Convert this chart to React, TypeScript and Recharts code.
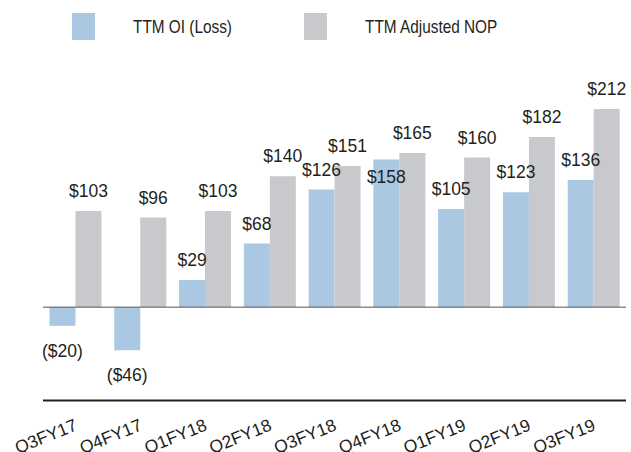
import { BarChart, Bar, XAxis, YAxis, ReferenceLine, LabelList, Legend } from 'recharts';

const quarters = ['Q3FY17', 'Q4FY17', 'Q1FY18', 'Q2FY18', 'Q3FY18', 'Q4FY18', 'Q1FY19', 'Q2FY19', 'Q3FY19'];
const ttmOi = [-20, -46, 29, 68, 126, 158, 105, 123, 136];
const ttmAdjNop = [103, 96, 103, 140, 151, 165, 160, 182, 212];

const BLUE = '#abc8e3';
const GREY = '#c7c9cd';
const FONT = '"Liberation Sans", Arial, Helvetica, sans-serif';

const chartData = quarters.map((q, i) => ({
    quarter: q,
    oi: ttmOi[i],
    nop: ttmAdjNop[i],
}));

const money = (v: number) => (v < 0 ? `($${Math.abs(v)})` : `$${v}`);

const makeLabel = (series: 'oi' | 'nop') => (props: any) => {
    const { x, y, width, height, value, index } = props;
    const cx = x + width / 2;
    const top = Math.min(y, y + height);
    const bottom = Math.max(y, y + height);
    let ty: number;
    if (value < 0) {
        // bar grows downward, label sits below its end
        ty = bottom + 25;
    } else {
        ty = top - 20;
        // OI label would run into the taller NOP label next to it: put it inside the bar
        if (series === 'oi' && ttmAdjNop[index] - value < 15) ty = top + 17;
    }
    return (
        <text x={cx} y={ty} dy="0.35em" textAnchor="middle" fontSize={17.5} fill="#231f20" fontFamily={FONT}>
            {money(value)}
        </text>
    );
};

const QuarterTick = (props: any) => {
    const { x, y, payload } = props;
    return (
        <g transform={`translate(${x + 3},${y + 21})`}>
            <text textAnchor="end" transform="rotate(-22)" fontSize={17.5} fill="#231f20" fontFamily={FONT}>
                {payload.value}
            </text>
        </g>
    );
};

const LegendBox = () => {
    const items = [
        { label: 'TTM OI (Loss)', color: BLUE, left: 72 },
        { label: 'TTM Adjusted NOP', color: GREY, left: 304 },
    ];
    return (
        <div style={{ position: 'relative', width: 631, height: 50 }}>
            {items.map(it => (
                <div key={it.label} style={{ position: 'absolute', left: it.left, top: 13, display: 'flex', alignItems: 'center' }}>
                    <div style={{ width: 23, height: 27, background: it.color }} />
                    <span
                        style={{
                            marginLeft: 38,
                            fontFamily: FONT,
                            fontSize: 18.5,
                            color: '#231f20',
                            display: 'inline-block',
                            transform: 'scaleX(0.83)',
                            transformOrigin: 'left center',
                            whiteSpace: 'nowrap',
                        }}
                    >
                        {it.label}
                    </span>
                </div>
            ))}
        </div>
    );
};

export default function App() {
    return (
        <div style={{ position: 'absolute', left: 0, top: 0, width: 631, height: 452, background: '#fff' }}>
            <BarChart
                width={631}
                height={452}
                data={chartData}
                margin={{ top: 23.5, right: 5, left: 43, bottom: 0 }}
                barCategoryGap="10%"
                barGap={0}
            >
                <Legend
                    verticalAlign="top"
                    content={() => <LegendBox />}
                    wrapperStyle={{ top: 0, left: 0, width: 631, height: 50 }}
                />
                <YAxis hide domain={[-100, 250]} />
                <XAxis
                    dataKey="quarter"
                    axisLine={{ stroke: '#231f20', strokeWidth: 2 }}
                    tickLine={false}
                    tick={<QuarterTick />}
                    interval={0}
                    height={51.4}
                />
                <ReferenceLine y={0} stroke="#555" strokeWidth={1} />
                <Bar dataKey="oi" fill={BLUE} isAnimationActive={false}>
                    <LabelList dataKey="oi" content={makeLabel('oi')} />
                </Bar>
                <Bar dataKey="nop" fill={GREY} isAnimationActive={false}>
                    <LabelList dataKey="nop" content={makeLabel('nop')} />
                </Bar>
            </BarChart>
        </div>
    );
}
